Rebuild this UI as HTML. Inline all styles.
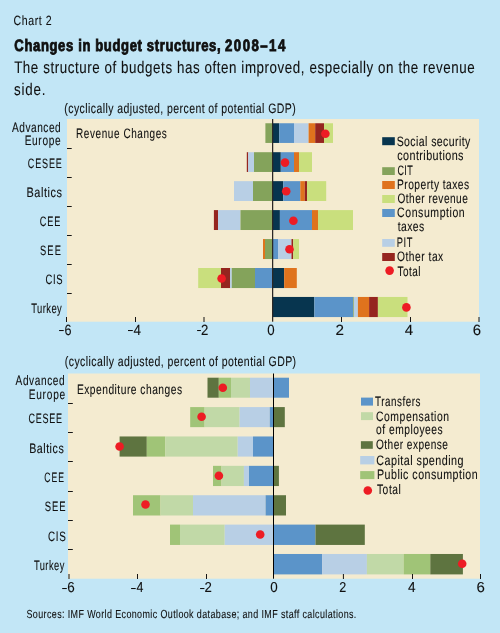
<!DOCTYPE html><html><head><meta charset="utf-8"><style>html,body{margin:0;padding:0;background:#c2e6f6;}svg{display:block;}text{font-family:"Liberation Sans",sans-serif;white-space:pre;text-rendering:geometricPrecision;}svg{will-change:transform;}</style></head><body>
<svg width="500" height="633" viewBox="0 0 500 633">
<rect x="0" y="0" width="500" height="633" fill="#c2e6f6"/>
<rect x="67" y="119" width="412" height="202.7" fill="#f4ebd0"/>
<rect x="265.4" y="123.25" width="7.2" height="19.7" fill="#84a35b"/>
<rect x="272.6" y="123.25" width="6.6" height="19.7" fill="#07354f"/>
<rect x="279.2" y="123.25" width="14.8" height="19.7" fill="#5b94c9"/>
<rect x="294" y="123.25" width="14.6" height="19.7" fill="#b8cfe5"/>
<rect x="308.6" y="123.25" width="6.6" height="19.7" fill="#df731d"/>
<rect x="315.2" y="123.25" width="8.8" height="19.7" fill="#95251f"/>
<rect x="324" y="123.25" width="9" height="19.7" fill="#c9df7d"/>
<rect x="246.8" y="152.2" width="1.4" height="19.77" fill="#95251f"/>
<rect x="248.2" y="152.2" width="5.8" height="19.77" fill="#b8cfe5"/>
<rect x="254" y="152.2" width="18.6" height="19.77" fill="#84a35b"/>
<rect x="272.6" y="152.2" width="8.2" height="19.77" fill="#07354f"/>
<rect x="280.8" y="152.2" width="13.2" height="19.77" fill="#5b94c9"/>
<rect x="294" y="152.2" width="5" height="19.77" fill="#df731d"/>
<rect x="299" y="152.2" width="13" height="19.77" fill="#c9df7d"/>
<rect x="234" y="181.15" width="19" height="19.84" fill="#b8cfe5"/>
<rect x="253" y="181.15" width="19.6" height="19.84" fill="#84a35b"/>
<rect x="272.6" y="181.15" width="10.6" height="19.84" fill="#07354f"/>
<rect x="283.2" y="181.15" width="17.1" height="19.84" fill="#5b94c9"/>
<rect x="300.3" y="181.15" width="4.5" height="19.84" fill="#df731d"/>
<rect x="304.8" y="181.15" width="2.2" height="19.84" fill="#95251f"/>
<rect x="307" y="181.15" width="19.2" height="19.84" fill="#c9df7d"/>
<rect x="213.9" y="210.1" width="4.1" height="19.91" fill="#95251f"/>
<rect x="218" y="210.1" width="22.5" height="19.91" fill="#b8cfe5"/>
<rect x="240.5" y="210.1" width="32.1" height="19.91" fill="#84a35b"/>
<rect x="272.6" y="210.1" width="7.3" height="19.91" fill="#07354f"/>
<rect x="279.9" y="210.1" width="32.1" height="19.91" fill="#5b94c9"/>
<rect x="312" y="210.1" width="6" height="19.91" fill="#df731d"/>
<rect x="318" y="210.1" width="35" height="19.91" fill="#c9df7d"/>
<rect x="263" y="239.05" width="2" height="19.98" fill="#df731d"/>
<rect x="265" y="239.05" width="7.6" height="19.98" fill="#84a35b"/>
<rect x="272.6" y="239.05" width="5.4" height="19.98" fill="#5b94c9"/>
<rect x="278" y="239.05" width="13.5" height="19.98" fill="#b8cfe5"/>
<rect x="291.5" y="239.05" width="1.7" height="19.98" fill="#95251f"/>
<rect x="293.2" y="239.05" width="5.8" height="19.98" fill="#c9df7d"/>
<rect x="198.2" y="268" width="22.8" height="20.05" fill="#c9df7d"/>
<rect x="221" y="268" width="9" height="20.05" fill="#95251f"/>
<rect x="230" y="268" width="1.8" height="20.05" fill="#b8cfe5"/>
<rect x="231.8" y="268" width="23.2" height="20.05" fill="#84a35b"/>
<rect x="255" y="268" width="17.6" height="20.05" fill="#5b94c9"/>
<rect x="272.6" y="268" width="11.6" height="20.05" fill="#07354f"/>
<rect x="284.2" y="268" width="12.6" height="20.05" fill="#df731d"/>
<rect x="272.6" y="296.95" width="41.7" height="20.12" fill="#07354f"/>
<rect x="314.3" y="296.95" width="38.9" height="20.12" fill="#5b94c9"/>
<rect x="353.2" y="296.95" width="0.7" height="20.12" fill="#84a35b"/>
<rect x="353.9" y="296.95" width="4" height="20.12" fill="#b8cfe5"/>
<rect x="357.9" y="296.95" width="11.2" height="20.12" fill="#df731d"/>
<rect x="369.1" y="296.95" width="8.8" height="20.12" fill="#95251f"/>
<rect x="377.9" y="296.95" width="29.6" height="20.12" fill="#c9df7d"/>
<rect x="272" y="119" width="1.25" height="202.7" fill="#2a2826"/>
<circle cx="325.4" cy="133.7" r="4.3" fill="#ed1c24"/>
<circle cx="285" cy="162.6" r="4.3" fill="#ed1c24"/>
<circle cx="286.2" cy="191.3" r="4.3" fill="#ed1c24"/>
<circle cx="293.4" cy="220.8" r="4.3" fill="#ed1c24"/>
<circle cx="289.5" cy="249.3" r="4.3" fill="#ed1c24"/>
<circle cx="221.6" cy="278.5" r="4.3" fill="#ed1c24"/>
<circle cx="406.4" cy="307.4" r="4.3" fill="#ed1c24"/>
<rect x="67" y="148" width="4.7" height="1" fill="#151515"/>
<rect x="67" y="177" width="4.7" height="1" fill="#151515"/>
<rect x="67" y="206" width="4.7" height="1" fill="#151515"/>
<rect x="67" y="235" width="4.7" height="1" fill="#151515"/>
<rect x="67" y="264" width="4.7" height="1" fill="#151515"/>
<rect x="67" y="293" width="4.7" height="1" fill="#151515"/>
<rect x="66" y="317" width="1" height="5" fill="#151515"/>
<rect x="135" y="317" width="1" height="5" fill="#151515"/>
<rect x="203.5" y="317" width="1" height="5" fill="#151515"/>
<rect x="341" y="317" width="1" height="5" fill="#151515"/>
<rect x="410" y="317" width="1" height="5" fill="#151515"/>
<rect x="478.5" y="317" width="1" height="5" fill="#151515"/>
<rect x="382.2" y="137.2" width="12.6" height="8" fill="#07354f"/>
<rect x="382.2" y="167.2" width="12.6" height="7.8" fill="#84a35b"/>
<rect x="382.2" y="181" width="12.6" height="8" fill="#df731d"/>
<rect x="382.2" y="195" width="12.6" height="8" fill="#c9df7d"/>
<rect x="382.2" y="209" width="12.6" height="8" fill="#5b94c9"/>
<rect x="382.2" y="239" width="12.6" height="7.8" fill="#b8cfe5"/>
<rect x="382.2" y="253" width="12.6" height="8" fill="#95251f"/>
<circle cx="389.6" cy="270.6" r="4.3" fill="#ed1c24"/>
<rect x="68" y="373.5" width="412" height="205.2" fill="#f4ebd0"/>
<rect x="207.5" y="377.7" width="11.3" height="20" fill="#5e7440"/>
<rect x="218.8" y="377.7" width="12.2" height="20" fill="#a0c477"/>
<rect x="231" y="377.7" width="19" height="20" fill="#c1d9a7"/>
<rect x="250" y="377.7" width="23.5" height="20" fill="#b8cfe5"/>
<rect x="273.5" y="377.7" width="15.5" height="20" fill="#5b94c9"/>
<rect x="190.2" y="407.08" width="14.4" height="20.07" fill="#a0c477"/>
<rect x="204.6" y="407.08" width="35" height="20.07" fill="#c1d9a7"/>
<rect x="239.6" y="407.08" width="30.2" height="20.07" fill="#b8cfe5"/>
<rect x="269.8" y="407.08" width="3.7" height="20.07" fill="#5b94c9"/>
<rect x="273.5" y="407.08" width="11.3" height="20.07" fill="#5e7440"/>
<rect x="119.6" y="436.46" width="27.2" height="20.14" fill="#5e7440"/>
<rect x="146.8" y="436.46" width="18.4" height="20.14" fill="#a0c477"/>
<rect x="165.2" y="436.46" width="72.5" height="20.14" fill="#c1d9a7"/>
<rect x="237.7" y="436.46" width="15.3" height="20.14" fill="#b8cfe5"/>
<rect x="253" y="436.46" width="20.5" height="20.14" fill="#5b94c9"/>
<rect x="213" y="465.84" width="8.5" height="20.21" fill="#a0c477"/>
<rect x="221.5" y="465.84" width="22.4" height="20.21" fill="#c1d9a7"/>
<rect x="243.9" y="465.84" width="5.1" height="20.21" fill="#b8cfe5"/>
<rect x="249" y="465.84" width="24.5" height="20.21" fill="#5b94c9"/>
<rect x="273.5" y="465.84" width="5.4" height="20.21" fill="#5e7440"/>
<rect x="133" y="495.22" width="27.5" height="20.28" fill="#a0c477"/>
<rect x="160.5" y="495.22" width="32.5" height="20.28" fill="#c1d9a7"/>
<rect x="193" y="495.22" width="72.6" height="20.28" fill="#b8cfe5"/>
<rect x="265.6" y="495.22" width="7.9" height="20.28" fill="#5b94c9"/>
<rect x="273.5" y="495.22" width="12.5" height="20.28" fill="#5e7440"/>
<rect x="170" y="524.6" width="10" height="20.35" fill="#a0c477"/>
<rect x="180" y="524.6" width="44.7" height="20.35" fill="#c1d9a7"/>
<rect x="224.7" y="524.6" width="48.8" height="20.35" fill="#b8cfe5"/>
<rect x="273.5" y="524.6" width="42" height="20.35" fill="#5b94c9"/>
<rect x="315.5" y="524.6" width="49.3" height="20.35" fill="#5e7440"/>
<rect x="273.5" y="553.98" width="48.6" height="20.42" fill="#5b94c9"/>
<rect x="322.1" y="553.98" width="44.8" height="20.42" fill="#b8cfe5"/>
<rect x="366.9" y="553.98" width="36.8" height="20.42" fill="#c1d9a7"/>
<rect x="403.7" y="553.98" width="26.6" height="20.42" fill="#a0c477"/>
<rect x="430.3" y="553.98" width="32.6" height="20.42" fill="#5e7440"/>
<rect x="273" y="373.5" width="1" height="205.2" fill="#000000"/>
<circle cx="222.8" cy="387.7" r="4.3" fill="#ed1c24"/>
<circle cx="201.6" cy="416.8" r="4.3" fill="#ed1c24"/>
<circle cx="119.6" cy="446.5" r="4.3" fill="#ed1c24"/>
<circle cx="218.9" cy="475.8" r="4.3" fill="#ed1c24"/>
<circle cx="145.5" cy="504.5" r="4.3" fill="#ed1c24"/>
<circle cx="260.2" cy="534.5" r="4.3" fill="#ed1c24"/>
<circle cx="462.2" cy="563.8" r="4.3" fill="#ed1c24"/>
<rect x="68" y="403" width="4.8" height="1" fill="#151515"/>
<rect x="68" y="432" width="4.8" height="1" fill="#151515"/>
<rect x="68" y="461" width="4.8" height="1" fill="#151515"/>
<rect x="68" y="491" width="4.8" height="1" fill="#151515"/>
<rect x="68" y="520" width="4.8" height="1" fill="#151515"/>
<rect x="68" y="549" width="4.8" height="1" fill="#151515"/>
<rect x="68.5" y="574" width="1" height="5" fill="#151515"/>
<rect x="137" y="574" width="1" height="5" fill="#151515"/>
<rect x="206" y="574" width="1" height="5" fill="#151515"/>
<rect x="342.9" y="574" width="1" height="5" fill="#151515"/>
<rect x="412" y="574" width="1" height="5" fill="#151515"/>
<rect x="480" y="574" width="1" height="5" fill="#151515"/>
<rect x="361" y="397.6" width="12" height="8" fill="#5b94c9"/>
<rect x="361" y="412.2" width="12" height="7.9" fill="#c1d9a7"/>
<rect x="360.9" y="441.2" width="11.9" height="7.6" fill="#5e7440"/>
<rect x="360.2" y="456" width="14.2" height="8.4" fill="#b8cfe5"/>
<rect x="360.2" y="471.1" width="14.2" height="8" fill="#a0c477"/>
<circle cx="367.8" cy="490.5" r="4.3" fill="#ed1c24"/>
<rect x="59.1" y="330" width="4.6" height="1.05" fill="#101010"/>
<rect x="128" y="330" width="4.8" height="1.05" fill="#101010"/>
<rect x="197.1" y="330" width="3.8" height="1.05" fill="#101010"/>
<rect x="62.2" y="588" width="4.6" height="1.05" fill="#101010"/>
<rect x="131.1" y="588" width="4.6" height="1.05" fill="#101010"/>
<rect x="200.1" y="588" width="4.3" height="1.05" fill="#101010"/>
<text id="chart2" transform="translate(13.61,0) scale(0.79,1)" x="0" y="24.9" font-size="13.37" font-weight="400" fill="#101010" stroke="#101010" stroke-width="0.1" textLength="48.14" lengthAdjust="spacing">Chart 2</text>
<text id="title" transform="translate(14.32,0) scale(0.79,1)" x="0" y="51.2" font-size="16.57" font-weight="700" fill="#101010" stroke="#101010" stroke-width="0.85" textLength="261.12" lengthAdjust="spacing">Changes in budget structures,</text>
<text id="title2" transform="translate(224.98,0) scale(0.8,1)" x="0" y="51.2" font-size="16.57" font-weight="700" fill="#101010" stroke="#101010" stroke-width="0.85" textLength="75.43" lengthAdjust="spacing">2008–14</text>
<text id="sub1" transform="translate(14.14,0) scale(0.8,1)" x="0" y="73" font-size="16.72" font-weight="400" fill="#101010" stroke="#101010" stroke-width="0.1" textLength="575.65" lengthAdjust="spacing">The structure of budgets has often improved, especially on the revenue</text>
<text id="sub2" transform="translate(13.97,0) scale(0.8,1)" x="0" y="94.6" font-size="16.72" font-weight="400" fill="#101010" stroke="#101010" stroke-width="0.1" textLength="39.44" lengthAdjust="spacing">side.</text>
<text id="unit1" transform="translate(64.33,0) scale(0.77,1)" x="0" y="112.8" font-size="13.66" font-weight="400" fill="#101010" stroke="#101010" stroke-width="0.1" textLength="300.51" lengthAdjust="spacing">(cyclically adjusted, percent of potential GDP)</text>
<text id="t_adv" transform="translate(12.02,0) scale(0.74,1)" x="0" y="131.8" font-size="13.66" font-weight="400" fill="#101010" stroke="#101010" stroke-width="0.1" textLength="65.83" lengthAdjust="spacing">Advanced</text>
<text id="t_eur" transform="translate(24.65,0) scale(0.74,1)" x="0" y="145.2" font-size="13.66" font-weight="400" fill="#101010" stroke="#101010" stroke-width="0.1" textLength="48.67" lengthAdjust="spacing">Europe</text>
<text id="t_cesee" transform="translate(27.8,0) scale(0.66,1)" x="0" y="168.4" font-size="13.66" font-weight="400" fill="#101010" stroke="#101010" stroke-width="0.1" textLength="51.5" lengthAdjust="spacing">CESEE</text>
<text id="t_bal" transform="translate(26.48,0) scale(0.8,1)" x="0" y="197.3" font-size="13.66" font-weight="400" fill="#101010" stroke="#101010" stroke-width="0.1" textLength="44.4" lengthAdjust="spacing">Baltics</text>
<text id="t_cee" transform="translate(39.77,0) scale(0.67,1)" x="0" y="226.3" font-size="13.66" font-weight="400" fill="#101010" stroke="#101010" stroke-width="0.1" textLength="30.82" lengthAdjust="spacing">CEE</text>
<text id="t_see" transform="translate(40.1,0) scale(0.68,1)" x="0" y="255.2" font-size="13.66" font-weight="400" fill="#101010" stroke="#101010" stroke-width="0.1" textLength="30.51" lengthAdjust="spacing">SEE</text>
<text id="t_cis" transform="translate(45.5,0) scale(0.69,1)" x="0" y="284.3" font-size="13.66" font-weight="400" fill="#101010" stroke="#101010" stroke-width="0.1" textLength="24.67" lengthAdjust="spacing">CIS</text>
<text id="t_tur" transform="translate(31.15,0) scale(0.69,1)" x="0" y="313.1" font-size="13.66" font-weight="400" fill="#101010" stroke="#101010" stroke-width="0.1" textLength="44.42" lengthAdjust="spacing">Turkey</text>
<text id="revch" transform="translate(76.03,0) scale(0.73,1)" x="0" y="138" font-size="13.66" font-weight="400" fill="#101010" stroke="#101010" stroke-width="0.1" textLength="124.35" lengthAdjust="spacing">Revenue Changes</text>
<text id="lg_ss" transform="translate(396.66,0) scale(0.77,1)" x="0" y="145.8" font-size="13.66" font-weight="400" fill="#101010" stroke="#101010" stroke-width="0.1" textLength="95.7" lengthAdjust="spacing">Social security</text>
<text id="lg_contr" transform="translate(397.23,0) scale(0.79,1)" x="0" y="159.8" font-size="13.66" font-weight="400" fill="#101010" stroke="#101010" stroke-width="0.1" textLength="83.83" lengthAdjust="spacing">contributions</text>
<text id="lg_cit" transform="translate(397.46,0) scale(0.66,1)" x="0" y="175.4" font-size="13.66" font-weight="400" fill="#101010" stroke="#101010" stroke-width="0.1" textLength="23.16" lengthAdjust="spacing">CIT</text>
<text id="lg_prop" transform="translate(396.95,0) scale(0.75,1)" x="0" y="189.4" font-size="13.66" font-weight="400" fill="#101010" stroke="#101010" stroke-width="0.1" textLength="96.29" lengthAdjust="spacing">Property taxes</text>
<text id="lg_othrev" transform="translate(397.4,0) scale(0.74,1)" x="0" y="203.4" font-size="13.66" font-weight="400" fill="#101010" stroke="#101010" stroke-width="0.1" textLength="95.19" lengthAdjust="spacing">Other revenue</text>
<text id="lg_cons" transform="translate(397.1,0) scale(0.77,1)" x="0" y="217.4" font-size="13.66" font-weight="400" fill="#101010" stroke="#101010" stroke-width="0.1" textLength="87.79" lengthAdjust="spacing">Consumption</text>
<text id="lg_taxes" transform="translate(397.65,0) scale(0.76,1)" x="0" y="231" font-size="13.66" font-weight="400" fill="#101010" stroke="#101010" stroke-width="0.1" textLength="35.01" lengthAdjust="spacing">taxes</text>
<text id="lg_pit" transform="translate(396.83,0) scale(0.68,1)" x="0" y="247.2" font-size="13.66" font-weight="400" fill="#101010" stroke="#101010" stroke-width="0.1" textLength="22.99" lengthAdjust="spacing">PIT</text>
<text id="lg_othtax" transform="translate(397.06,0) scale(0.75,1)" x="0" y="261.4" font-size="13.66" font-weight="400" fill="#101010" stroke="#101010" stroke-width="0.1" textLength="61.59" lengthAdjust="spacing">Other tax</text>
<text id="lg_total" transform="translate(397.5,0) scale(0.73,1)" x="0" y="275.7" font-size="13.66" font-weight="400" fill="#101010" stroke="#101010" stroke-width="0.1" textLength="31.52" lengthAdjust="spacing">Total</text>
<text id="unit2" transform="translate(64.85,0) scale(0.77,1)" x="0" y="366.4" font-size="13.66" font-weight="400" fill="#101010" stroke="#101010" stroke-width="0.1" textLength="300.34" lengthAdjust="spacing">(cyclically adjusted, percent of potential GDP)</text>
<text id="b_adv" transform="translate(15.56,0) scale(0.74,1)" x="0" y="385.2" font-size="13.66" font-weight="400" fill="#101010" stroke="#101010" stroke-width="0.1" textLength="66.38" lengthAdjust="spacing">Advanced</text>
<text id="b_eur" transform="translate(28.66,0) scale(0.74,1)" x="0" y="398.8" font-size="13.66" font-weight="400" fill="#101010" stroke="#101010" stroke-width="0.1" textLength="49.36" lengthAdjust="spacing">Europe</text>
<text id="b_cesee" transform="translate(28.39,0) scale(0.66,1)" x="0" y="423.4" font-size="13.66" font-weight="400" fill="#101010" stroke="#101010" stroke-width="0.1" textLength="50.84" lengthAdjust="spacing">CESEE</text>
<text id="b_bal" transform="translate(29.13,0) scale(0.78,1)" x="0" y="452.8" font-size="13.66" font-weight="400" fill="#101010" stroke="#101010" stroke-width="0.1" textLength="44.33" lengthAdjust="spacing">Baltics</text>
<text id="b_cee" transform="translate(44.35,0) scale(0.63,1)" x="0" y="482" font-size="13.66" font-weight="400" fill="#101010" stroke="#101010" stroke-width="0.1" textLength="31.29" lengthAdjust="spacing">CEE</text>
<text id="b_see" transform="translate(44.7,0) scale(0.69,1)" x="0" y="511.1" font-size="13.66" font-weight="400" fill="#101010" stroke="#101010" stroke-width="0.1" textLength="30.34" lengthAdjust="spacing">SEE</text>
<text id="b_cis" transform="translate(47.88,0) scale(0.72,1)" x="0" y="540.5" font-size="13.66" font-weight="400" fill="#101010" stroke="#101010" stroke-width="0.1" textLength="24.78" lengthAdjust="spacing">CIS</text>
<text id="b_tur" transform="translate(33.96,0) scale(0.68,1)" x="0" y="569.8" font-size="13.66" font-weight="400" fill="#101010" stroke="#101010" stroke-width="0.1" textLength="44.59" lengthAdjust="spacing">Turkey</text>
<text id="expch" transform="translate(76.91,0) scale(0.75,1)" x="0" y="394.2" font-size="13.66" font-weight="400" fill="#101010" stroke="#101010" stroke-width="0.1" textLength="140.19" lengthAdjust="spacing">Expenditure changes</text>
<text id="bl_tr" transform="translate(375.08,0) scale(0.72,1)" x="0" y="406" font-size="13.66" font-weight="400" fill="#101010" stroke="#101010" stroke-width="0.1" textLength="62.88" lengthAdjust="spacing">Transfers</text>
<text id="bl_comp" transform="translate(375.98,0) scale(0.76,1)" x="0" y="420.9" font-size="13.66" font-weight="400" fill="#101010" stroke="#101010" stroke-width="0.1" textLength="96.19" lengthAdjust="spacing">Compensation</text>
<text id="bl_emp" transform="translate(375.99,0) scale(0.75,1)" x="0" y="434.4" font-size="13.66" font-weight="400" fill="#101010" stroke="#101010" stroke-width="0.1" textLength="88.85" lengthAdjust="spacing">of employees</text>
<text id="bl_oth" transform="translate(375.92,0) scale(0.74,1)" x="0" y="449.4" font-size="13.66" font-weight="400" fill="#101010" stroke="#101010" stroke-width="0.1" textLength="97.34" lengthAdjust="spacing">Other expense</text>
<text id="bl_cap" transform="translate(376.31,0) scale(0.79,1)" x="0" y="465" font-size="13.66" font-weight="400" fill="#101010" stroke="#101010" stroke-width="0.1" textLength="110.43" lengthAdjust="spacing">Capital spending</text>
<text id="bl_pub" transform="translate(376.98,0) scale(0.78,1)" x="0" y="479.4" font-size="13.66" font-weight="400" fill="#101010" stroke="#101010" stroke-width="0.1" textLength="129.01" lengthAdjust="spacing">Public consumption</text>
<text id="bl_total" transform="translate(376.93,0) scale(0.75,1)" x="0" y="493.8" font-size="13.66" font-weight="400" fill="#101010" stroke="#101010" stroke-width="0.1" textLength="31.91" lengthAdjust="spacing">Total</text>
<text id="src" transform="translate(26.46,0) scale(0.77,1)" x="0" y="617.8" font-size="11.63" font-weight="400" fill="#101010" stroke="#101010" stroke-width="0.1" textLength="428.42" lengthAdjust="spacing">Sources: IMF World Economic Outlook database; and IMF staff calculations.</text>
<text id="tk1_m6" x="64.6" y="335.1" font-size="14.83" font-weight="400" fill="#101010" stroke="#101010" stroke-width="0.1" textLength="7" lengthAdjust="spacingAndGlyphs">6</text>
<text id="tk1_m4" x="133.41" y="335.1" font-size="14.83" font-weight="400" fill="#101010" stroke="#101010" stroke-width="0.1" textLength="7.48" lengthAdjust="spacingAndGlyphs">4</text>
<text id="tk1_m2" x="201.11" y="335.1" font-size="14.83" font-weight="400" fill="#101010" stroke="#101010" stroke-width="0.1" textLength="7.33" lengthAdjust="spacingAndGlyphs">2</text>
<text id="tk1_0" x="267.33" y="335.1" font-size="14.83" font-weight="400" fill="#101010" stroke="#101010" stroke-width="0.1" textLength="7.36" lengthAdjust="spacingAndGlyphs">0</text>
<text id="tk1_2" x="335.44" y="335.1" font-size="14.83" font-weight="400" fill="#101010" stroke="#101010" stroke-width="0.1" textLength="8.49" lengthAdjust="spacingAndGlyphs">2</text>
<text id="tk1_4" x="404.65" y="335.1" font-size="14.83" font-weight="400" fill="#101010" stroke="#101010" stroke-width="0.1" textLength="8.37" lengthAdjust="spacingAndGlyphs">4</text>
<text id="tk1_6" x="472.68" y="335.1" font-size="14.83" font-weight="400" fill="#101010" stroke="#101010" stroke-width="0.1" textLength="8.29" lengthAdjust="spacingAndGlyphs">6</text>
<text id="tk2_m6" x="67.28" y="592.4" font-size="14.39" font-weight="400" fill="#101010" stroke="#101010" stroke-width="0.1" textLength="7.49" lengthAdjust="spacingAndGlyphs">6</text>
<text id="tk2_m4" x="136.44" y="592.4" font-size="14.39" font-weight="400" fill="#101010" stroke="#101010" stroke-width="0.1" textLength="6.9" lengthAdjust="spacingAndGlyphs">4</text>
<text id="tk2_m2" x="204.45" y="592.4" font-size="14.39" font-weight="400" fill="#101010" stroke="#101010" stroke-width="0.1" textLength="7.34" lengthAdjust="spacingAndGlyphs">2</text>
<text id="tk2_0" x="270.32" y="592.4" font-size="14.39" font-weight="400" fill="#101010" stroke="#101010" stroke-width="0.1" textLength="7.45" lengthAdjust="spacingAndGlyphs">0</text>
<text id="tk2_2" x="339.21" y="592.4" font-size="14.39" font-weight="400" fill="#101010" stroke="#101010" stroke-width="0.1" textLength="7" lengthAdjust="spacingAndGlyphs">2</text>
<text id="tk2_4" x="407.91" y="592.4" font-size="14.39" font-weight="400" fill="#101010" stroke="#101010" stroke-width="0.1" textLength="7.58" lengthAdjust="spacingAndGlyphs">4</text>
<text id="tk2_6" x="476.52" y="592.4" font-size="14.39" font-weight="400" fill="#101010" stroke="#101010" stroke-width="0.1" textLength="8.38" lengthAdjust="spacingAndGlyphs">6</text>
</svg></body></html>
